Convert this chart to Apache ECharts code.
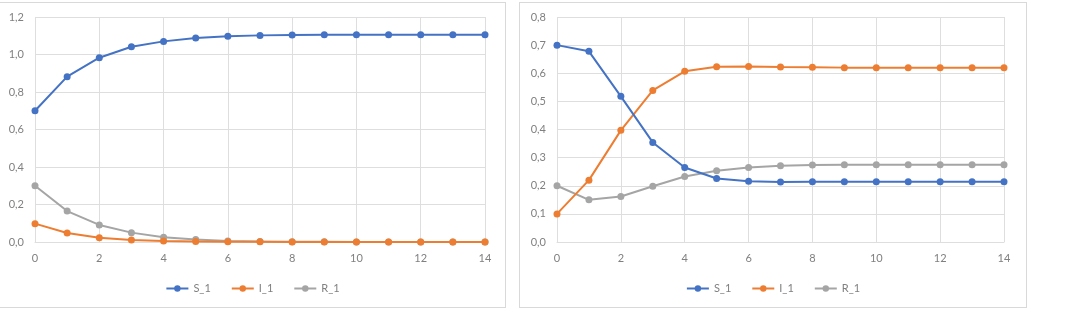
<!DOCTYPE html>
<html>
<head>
<meta charset="utf-8">
<script src="https://cdn.jsdelivr.net/npm/echarts@6/dist/echarts.min.js"></script>
<style>
  body { margin: 0; background: #fff; width: 1073px; height: 314px; overflow: hidden; position: relative; }
  .box { position: absolute; top: 2px; height: 306px; box-sizing: border-box; border: 1px solid #d9d9d9; }
  #left { left: -1px; width: 507px; }
  #right { left: 519px; width: 508px; }
</style>
</head>
<body>
<div class="box" id="left"></div>
<div class="box" id="right"></div>
<script>
// x values (steps)
const steps = [0, 1, 2, 3, 4, 5, 6, 7, 8, 9, 10, 11, 12, 13, 14]

// left chart
const leftS = [0.70, 0.882, 0.983, 1.041, 1.070, 1.088, 1.097, 1.102, 1.104, 1.105, 1.106, 1.106, 1.106, 1.106, 1.106]
const leftI = [0.098, 0.048, 0.023, 0.011, 0.005, 0.003, 0.001, 0.001, 0, 0, 0, 0, 0, 0, 0]
const leftR = [0.30, 0.165, 0.091, 0.050, 0.025, 0.013, 0.006, 0.003, 0.002, 0.001, 0, 0, 0, 0, 0]

// right chart
const rightS = [0.70, 0.678, 0.518, 0.354, 0.265, 0.226, 0.216, 0.213, 0.214, 0.214, 0.214, 0.214, 0.214, 0.214, 0.214]
const rightI = [0.10, 0.220, 0.397, 0.539, 0.607, 0.623, 0.624, 0.622, 0.621, 0.620, 0.620, 0.620, 0.620, 0.620, 0.620]
const rightR = [0.20, 0.150, 0.162, 0.198, 0.233, 0.253, 0.265, 0.271, 0.274, 0.275, 0.275, 0.275, 0.275, 0.275, 0.275]

const names = ['S_1', 'I_1', 'R_1']
const colors = ['#4472c4', '#ed7d31', '#a5a5a5']

const font = 'Lato'
const labelColor = '#808080'
const gridColor = '#dedede'

function pairs(vals) {
  return steps.map((x, i) => [x, vals[i]])
}

function makeOption(seriesVals, yMax, yStep, gridPos) {
  return {
    animation: false,
    color: colors,
    textStyle: { fontFamily: font },
    grid: gridPos,
    legend: {
      data: names,
      left: 'center',
      top: 275,
      itemWidth: 22,
      itemHeight: 8,
      itemGap: 20,
      textStyle: { fontSize: 11, color: labelColor, fontFamily: font }
    },
    xAxis: {
      type: 'value',
      min: 0,
      max: 14,
      interval: 2,
      axisLine: { show: true, lineStyle: { color: gridColor } },
      axisTick: { show: false },
      splitLine: { show: true, lineStyle: { color: gridColor } },
      axisLabel: { color: labelColor, fontSize: 11, margin: 11 }
    },
    yAxis: {
      type: 'value',
      min: 0,
      max: yMax,
      interval: yStep,
      axisLine: { show: false },
      axisTick: { show: false },
      splitLine: { lineStyle: { color: gridColor } },
      axisLabel: {
        color: labelColor,
        fontSize: 11,
        margin: 11,
        formatter: v => v.toFixed(1).replace('.', ',')
      }
    },
    series: seriesVals.map((vals, i) => ({
      name: names[i],
      type: 'line',
      data: pairs(vals),
      symbol: 'circle',
      symbolSize: 7,
      lineStyle: { width: 2 },
      z: 3 - i
    }))
  }
}

const leftChart = echarts.init(document.getElementById('left'))
leftChart.setOption(makeOption([leftS, leftI, leftR], 1.2, 0.2,
  { left: 35, right: 20, top: 14, bottom: 65 }))

const rightChart = echarts.init(document.getElementById('right'))
rightChart.setOption(makeOption([rightS, rightI, rightR], 0.8, 0.1,
  { left: 37, right: 22, top: 14, bottom: 65 }))
</script>
</body>
</html>
